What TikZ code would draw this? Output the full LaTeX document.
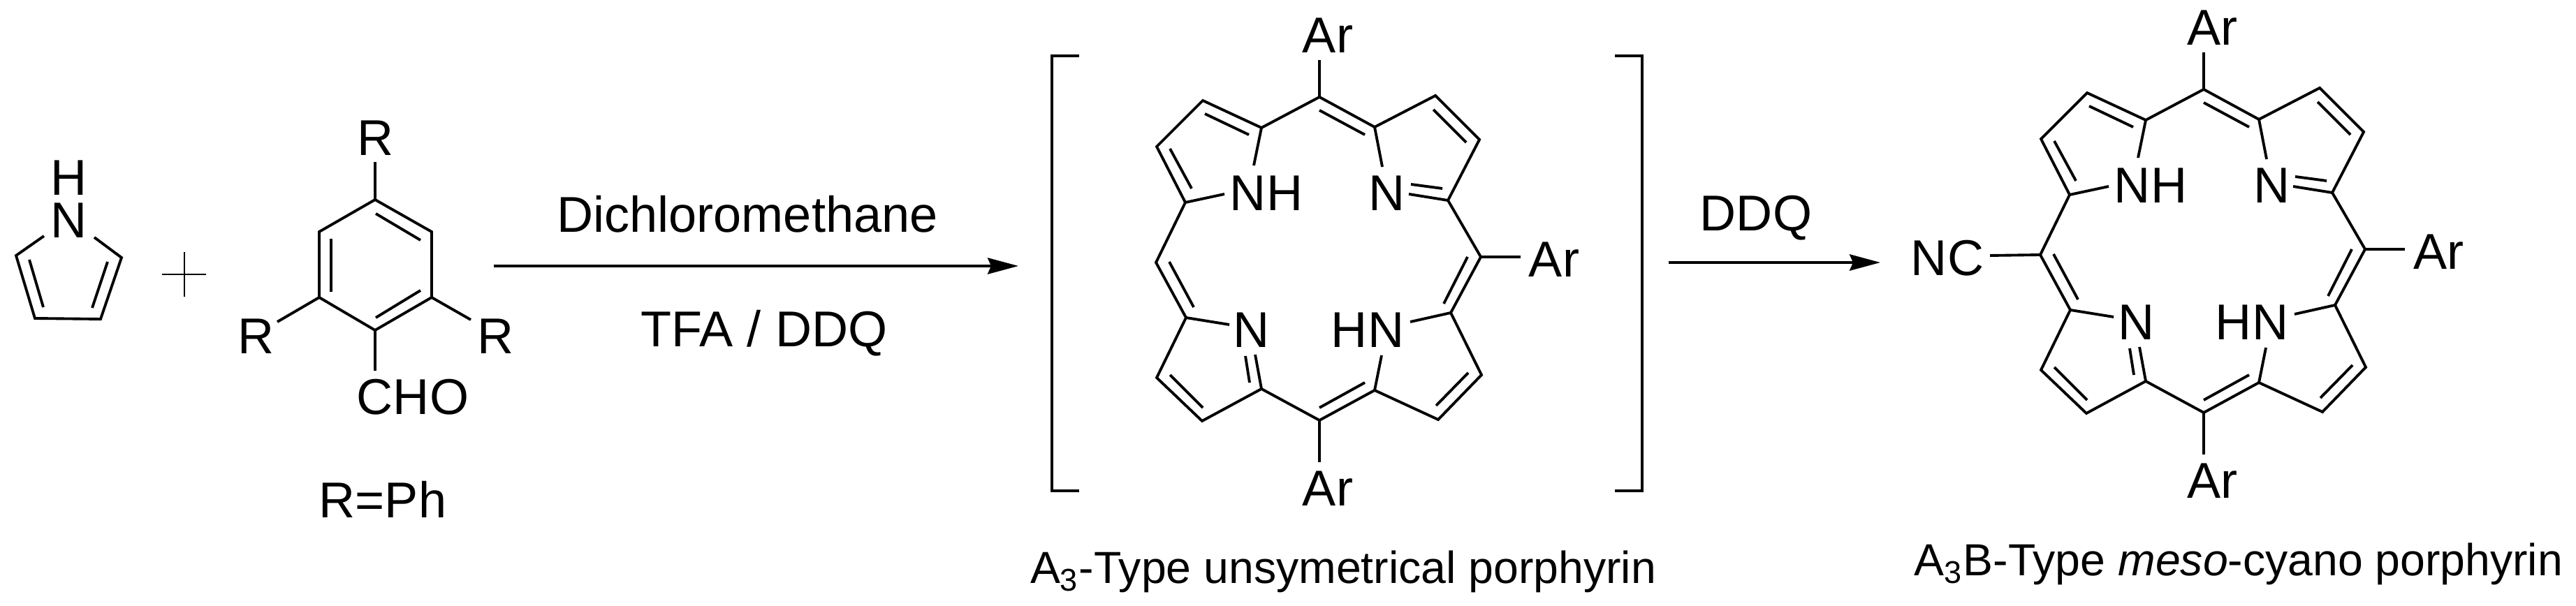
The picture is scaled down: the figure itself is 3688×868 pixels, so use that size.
\documentclass[tikz,border=0pt]{standalone}
\usepackage{fontspec}
\setmainfont{Liberation Sans}
\usetikzlibrary{arrows.meta}
\tikzset{
  bond/.style={line width=1.1pt},
  atom/.style={inner sep=0pt,font=\fontsize{20.5}{24}\selectfont},
  caption/.style={inner sep=0pt,anchor=base,font=\fontsize{18.3}{22}\selectfont},
  rxnarrow/.style={line width=1.1pt,-{Stealth[length=12.5pt,width=6.6pt,inset=1.4pt]}},
  porphyrin/.pic={
    % macrocycle corners
    \foreach \nm/\px/\py in {t/1889/139, a1/1806/183, b1/1722/144, b2/1656/210, a2/1697/290,
      l/1655/376, a3/1698/455, b3/1656/541, b4/1721/603, a4/1806/557, bm/1889/602,
      a5/1968/559, b5/2059/601, b6/2121/537, a6/2077/448, r/2120/368, a7/2073/287,
      b7/2118/200, b8/2055/137, a8/1968/182}
      \coordinate (\nm) at (\px,\py);
    % free bond ends at the labels
    \foreach \nm/\px/\py in {e1/1795/237, e2/1753/278, e3/1979/239, e4/2017/278, e5/1760/465,
      e6/1797/508, e7/1978/509, e8/2019/461, e9/1889/86, e10/2177/368, e11/1889/662}
      \coordinate (\nm) at (\px,\py);
    \node[atom] (nh) at (1813,277) {NH};
    \node[atom] (ntr) at (1986,277) {N};
    \node[atom] (nbl) at (1792,473) {N};
    \node[atom] (hn) at (1958,473) {HN};
    \node[atom] (art) at (1901,51) {Ar};
    \node[atom] (arr) at (2225,372) {Ar};
    \node[atom] (arb) at (1901,700) {Ar};
    \draw[bond] (b1) -- (a1) -- (t) -- (a8) -- (b8) -- (b7) -- (a7) -- (r) -- (a6) -- (b6) -- (b5)
      -- (a5) -- (bm) -- (a4) -- (b4) -- (b3) -- (a3) -- (l) -- (a2) -- (b2) -- cycle;
    \foreach \from/\to in {a1/e1, a2/e2, a8/e3, a7/e4, a3/e5, a4/e6, a5/e7, a6/e8, t/e9, r/e10, bm/e11}
      \draw[bond] (\from) -- (\to);
    % inner lines of the double bonds
    \draw[bond] (1725,163) -- (1788,193);
    \draw[bond] (1675,213) -- (1706,270);
    \draw[bond] (1889,158) -- (1954,193);
    \draw[bond] (2052,157) -- (2099,204);
    \draw[bond] (2020,264) -- (2065,270);
    \draw[bond] (1674,375) -- (1709,440);
    \draw[bond] (1783,510) -- (1789,548);
    \draw[bond] (1675,537) -- (1722,584);
    \draw[bond] (1889,584) -- (1954,548);
    \draw[bond] (2056,581) -- (2102,534);
    \draw[bond] (2101,368) -- (2067,435);
  }
}
\begin{document}
\begin{tikzpicture}[x=0.01cm,y=-0.01cm]
\useasboundingbox (0,0) rectangle (3688,868);
% pyrrole
\coordinate (py1) at (23,366);
\coordinate (py2) at (50,456);
\coordinate (py3) at (144,457);
\coordinate (py4) at (174,369);
\coordinate (py5) at (63,338);
\coordinate (py6) at (135,340);
\node[atom,align=center,font=\fontsize{20.5}{17.4}\selectfont] (pyn) at (99,285) {H\\N};
\draw[bond] (py5) -- (py1) -- (py2) -- (py3) -- (py4) -- (py6);
\draw[bond] (42,372) -- (62,440);
\draw[bond] (154,375) -- (132,441);
% plus
\draw[line width=0.75pt] (232,393) -- (295,393);
\draw[line width=0.75pt] (264,361) -- (264,425);
% aldehyde
\coordinate (ph1) at (537,286);
\coordinate (ph2) at (618,332);
\coordinate (ph3) at (618,426);
\coordinate (ph4) at (537,473);
\coordinate (ph5) at (457,426);
\coordinate (ph6) at (457,332);
\coordinate (rte) at (537,232);
\coordinate (rle) at (397,461);
\coordinate (rre) at (674,458);
\coordinate (choe) at (537,531);
\node[atom] (rt) at (538,198) {R};
\node[atom] (rl) at (367,482) {R};
\node[atom] (rr) at (710,482) {R};
\node[atom] (cho) at (591,569) {CHO};
\node[atom] (rph) at (548,715) {R=Ph};
\draw[bond] (ph1) -- (ph2) -- (ph3) -- (ph4) -- (ph5) -- (ph6) -- cycle;
\draw[bond] (ph1) -- (rte);
\draw[bond] (ph5) -- (rle);
\draw[bond] (ph3) -- (rre);
\draw[bond] (ph4) -- (choe);
\draw[bond] (538,306) -- (602,344);
\draw[bond] (602,416) -- (538,455);
\draw[bond] (474,342) -- (474,418);
% first step
\coordinate (s1a) at (707,381);
\coordinate (s1b) at (1458,381);
\draw[rxnarrow] (s1a) -- (s1b);
\node[atom] (solv) at (1070,307) {Dichloromethane};
\node[atom] (tfa) at (1094,477) {TFA / DDQ};
% intermediate
\pic (pa) at (0,0) {porphyrin};
\draw[bond] (1545,80) -- (1506,80) -- (1506,703) -- (1545,703);
\draw[bond] (2312,80) -- (2351,80) -- (2351,703) -- (2312,703);
\node[caption] (capa) at (1923,836) {A\textsubscript{3}-Type unsymetrical porphyrin};
% second step
\coordinate (s2a) at (2389,376);
\coordinate (s2b) at (2692,376);
\draw[rxnarrow] (s2a) -- (s2b);
\node[atom] (ddq) at (2514,312) {DDQ};
% product
\pic (pb) at (1266,-11) {porphyrin};
\coordinate (nce) at (2849,366);
\node[atom] (nc) at (2788,370) {NC};
\draw[bond] (pbl) -- (nce);
\node[caption] (capb) at (3205,825) {A\textsubscript{3}B-Type \textit{meso}-cyano porphyrin};
\end{tikzpicture}
\end{document}
